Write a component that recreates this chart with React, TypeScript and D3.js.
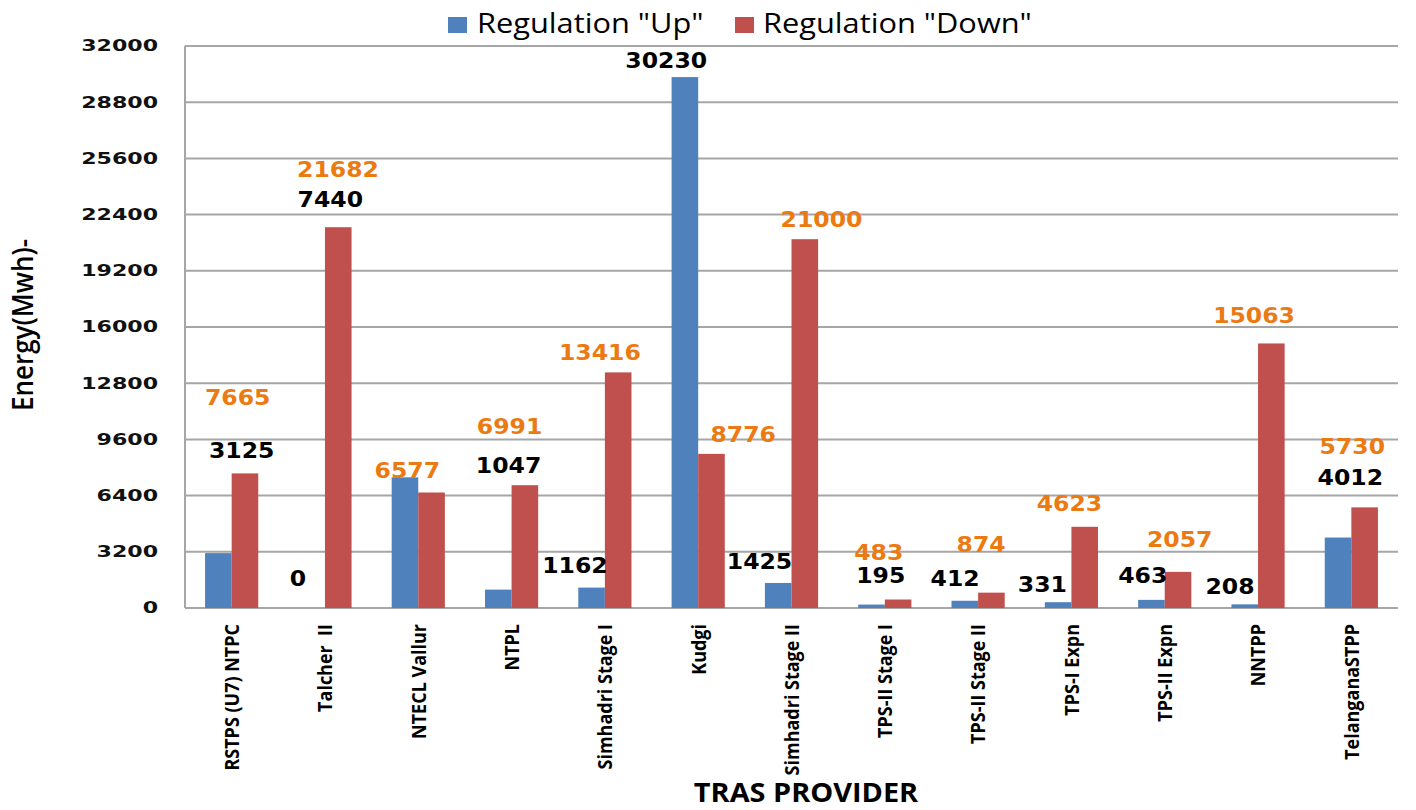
import React from "react";
import * as d3 from "d3";

const categories = [
  "RSTPS (U7) NTPC",
  "Talcher  II",
  "NTECL Vallur",
  "NTPL",
  "Simhadri Stage I",
  "Kudgi",
  "Simhadri Stage II",
  "TPS-II Stage I",
  "TPS-II Stage II",
  "TPS-I Expn",
  "TPS-II Expn",
  "NNTPP",
  "TelanganaSTPP",
];
const regUp = [3125, 0, 7440, 1047, 1162, 30230, 1425, 195, 412, 331, 463, 208, 4012];
const regDown = [7665, 21682, 6577, 6991, 13416, 8776, 21000, 483, 874, 4623, 2057, 15063, 5730];
const yTicks = [0, 3200, 6400, 9600, 12800, 16000, 19200, 22400, 25600, 28800, 32000];
const seriesNames = ['Regulation "Up"', 'Regulation "Down"'];

// label placement (as in the reference): [dx from band centre (px), y in data units]
const upLabelPos: [number, number][] = [
  [10, 8996], [-27, 1708], [-88, 23288], [-3, 8142], [-30, 2448], [-32, 31203], [-32, 2676],
  [-4, 1879], [-23, 1708], [-29, 1367], [-22, 1879], [-28, 1253], [-1, 7459],
];
const downLabelPos: [number, number][] = [
  [6, 12014], [13, 24996], [-11, 7858], [-2, 10363], [-5, 14577], [45, 9907], [30, 22149],
  [-6, 3189], [3, 3644], [-2, 5979], [15, 3929], [-4, 16683], [1, 9224],
];

const W = 1416;
const H = 810;
const M = { left: 185, right: 1398, top: 46, bottom: 608 };
const BLUE = "#4F81BD";
const RED = "#C0504D";
const ORANGE = "#EC7A12";
const GRID = "#A6A6A6";

export default function App() {
  const x0 = d3
    .scaleBand<string>()
    .domain(categories)
    .range([M.left, M.right])
    .paddingInner(0.43)
    .paddingOuter(0.215);
  const x1 = d3.scaleBand<string>().domain(["up", "down"]).range([0, x0.bandwidth()]);
  const y = d3.scaleLinear().domain([0, 32000]).range([M.bottom, M.top]);
  const center = (c: string) => (x0(c) as number) + x0.bandwidth() / 2;

  return (
    <svg
      width={W}
      height={H}
      style={{ position: "absolute", left: 0, top: 0, background: "#fff" }}
    >
      {/* gridlines */}
      {yTicks.map((t) => (
        <line key={t} x1={M.left} x2={M.right} y1={y(t)} y2={y(t)} stroke={GRID} strokeWidth={2} />
      ))}
      <line x1={M.left} x2={M.left} y1={y(32000)} y2={y(0)} stroke={GRID} strokeWidth={2} />

      {/* y tick labels */}
      {yTicks.map((t) => (
        <text
          key={"l" + t}
          transform={`translate(158,${y(t)}) scale(1.38,1)`}
          textAnchor="end"
          dominantBaseline="central"
          fontFamily="DejaVu Sans"
          fontWeight="bold"
          fontSize={16}
          fill="#111"
        >
          {t}
        </text>
      ))}

      {/* bars */}
      {categories.map((c, i) => (
        <g key={c} transform={`translate(${x0(c)},0)`}>
          <rect x={x1("up")} width={x1.bandwidth()} y={y(regUp[i])} height={y(0) - y(regUp[i])} fill={BLUE} />
          <rect x={x1("down")} width={x1.bandwidth()} y={y(regDown[i])} height={y(0) - y(regDown[i])} fill={RED} />
        </g>
      ))}

      {/* data labels */}
      {categories.map((c, i) => (
        <g key={"dl" + c}>
          <text
            transform={`translate(${center(c) + downLabelPos[i][0]},${y(downLabelPos[i][1])}) scale(1.07,1)`}
            textAnchor="middle"
            dominantBaseline="central"
            fontFamily="DejaVu Sans"
            fontWeight="bold"
            fontSize={22}
            fill={ORANGE}
          >
            {regDown[i]}
          </text>
          <text
            transform={`translate(${center(c) + upLabelPos[i][0]},${y(upLabelPos[i][1])}) scale(1.07,1)`}
            textAnchor="middle"
            dominantBaseline="central"
            fontFamily="DejaVu Sans"
            fontWeight="bold"
            fontSize={22}
            fill="#000"
          >
            {regUp[i]}
          </text>
        </g>
      ))}

      {/* x category labels */}
      {categories.map((c) => (
        <text
          key={"x" + c}
          transform={`translate(${center(c)},624) rotate(-90) scale(1,1.1)`}
          textAnchor="end"
          dominantBaseline="central"
          fontFamily="Open Sans"
          fontWeight="bold"
          fontSize={18}
          fill="#000"
          style={{ whiteSpace: "pre" }}
        >
          {c}
        </text>
      ))}

      {/* axis titles */}
      <text
        transform={`translate(22,325) rotate(-90) scale(1,1.1)`}
        textAnchor="middle"
        dominantBaseline="central"
        fontFamily="Open Sans"
        fontWeight={600}
        fontSize={26}
        fill="#000"
      >
        Energy(Mwh)-
      </text>
      <text
        transform="translate(806,802) scale(1.07,1)"
        textAnchor="middle"
        fontFamily="Open Sans"
        fontWeight="bold"
        fontSize={27}
        fill="#000"
      >
        TRAS PROVIDER
      </text>

      {/* legend */}
      <rect x={448} y={17} width={19} height={16} fill={BLUE} />
      <text transform="translate(477,33) scale(1.14,1)" fontFamily="Open Sans" fontSize={27} fill="#000">
        {seriesNames[0]}
      </text>
      <rect x={735} y={17} width={19} height={16} fill={RED} />
      <text transform="translate(763,33) scale(1.14,1)" fontFamily="Open Sans" fontSize={27} fill="#000">
        {seriesNames[1]}
      </text>
    </svg>
  );
}
